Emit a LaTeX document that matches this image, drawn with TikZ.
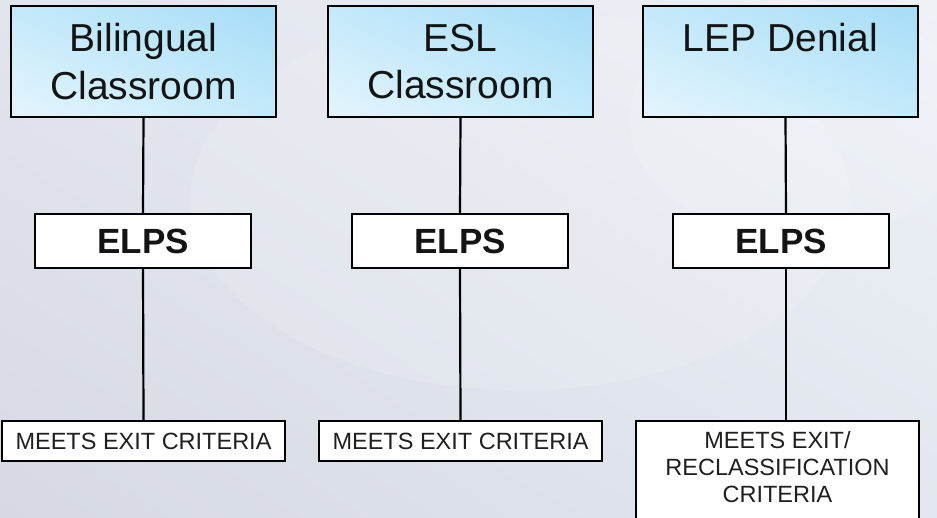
\documentclass[tikz,border=0pt]{standalone}
\usepackage{fontspec}
\setmainfont{Liberation Sans}
\usetikzlibrary{shadings}
\definecolor{bgUL}{RGB}{226,229,237}
\definecolor{bgUR}{RGB}{238,242,247}
\definecolor{bgLL}{RGB}{214,217,227}
\definecolor{bgLR}{RGB}{226,231,239}
\definecolor{boxUL}{RGB}{196,233,250}
\definecolor{boxUR}{RGB}{166,221,247}
\definecolor{boxLL}{RGB}{228,245,253}
\definecolor{boxLR}{RGB}{196,234,250}
\definecolor{txt}{RGB}{20,20,20}
\tikzset{
  topbox/.style={draw=black, line width=2.2pt, upper left=boxUL, upper right=boxUR,
    lower left=boxLL, lower right=boxLR, minimum height=111pt, inner sep=0pt,
    align=center, font=\fontsize{39}{47.5}\selectfont, text=txt},
  elpsbox/.style={draw=black, line width=2.2pt, fill=white, minimum width=216pt,
    minimum height=54pt, inner sep=0pt, font=\fontsize{35}{40}\selectfont\bfseries, text=txt},
  exitbox/.style={draw=black, line width=2.2pt, fill=white, minimum width=283pt,
    minimum height=40pt, inner sep=0pt, align=center,
    font=\fontsize{23.5}{27}\selectfont, text=black!88},
  link/.style={line width=2.2pt, draw=black}
}
\begin{document}
\begin{tikzpicture}[x=1pt,y=-1pt]
\useasboundingbox (0,0) rectangle (937,517);
\shade[upper left=bgUL, upper right=bgUR, lower left=bgLL, lower right=bgLR] (0,0) rectangle (937,517);
\fill[white, opacity=0.12] (520,200) ellipse (330 and 190);
\fill[white, opacity=0.12] (800,120) ellipse (170 and 120);

\node[topbox, minimum width=265pt] (top1) at (143.5,61.5) {Bilingual\\Classroom};
\node[topbox, minimum width=265pt] (top2) at (460.5,61.5) {ESL\\Classroom};
\node[topbox, minimum width=275pt] (top3) at (780.5,61.5) {LEP Denial\\\phantom{Classroom}};

\node[elpsbox] (elps1) at (143,241) {ELPS};
\node[elpsbox] (elps2) at (460,241) {ELPS};
\node[elpsbox] (elps3) at (781,241) {ELPS};

\node[exitbox] (bot1) at (143.5,441) {MEETS EXIT CRITERIA};
\node[exitbox] (bot2) at (460.5,441) {MEETS EXIT CRITERIA};
\node[exitbox, anchor=north, inner ysep=10.5pt] (bot3) at (777.5,420)
  {MEETS EXIT/\\RECLASSIFICATION\\CRITERIA\rule[-30pt]{0pt}{0pt}};

\draw[link] (top1.south) -- (elps1.north);
\draw[link] (elps1.south) -- (bot1.north);
\draw[link] (top2.south) -- (elps2.north);
\draw[link] (elps2.south) -- (bot2.north);
\draw[link] ([xshift=5pt]top3.south) -- ([xshift=5pt]elps3.north);
\draw[link] ([xshift=5pt]elps3.south) -- ([xshift=8.5pt]bot3.north);
\end{tikzpicture}
\end{document}
